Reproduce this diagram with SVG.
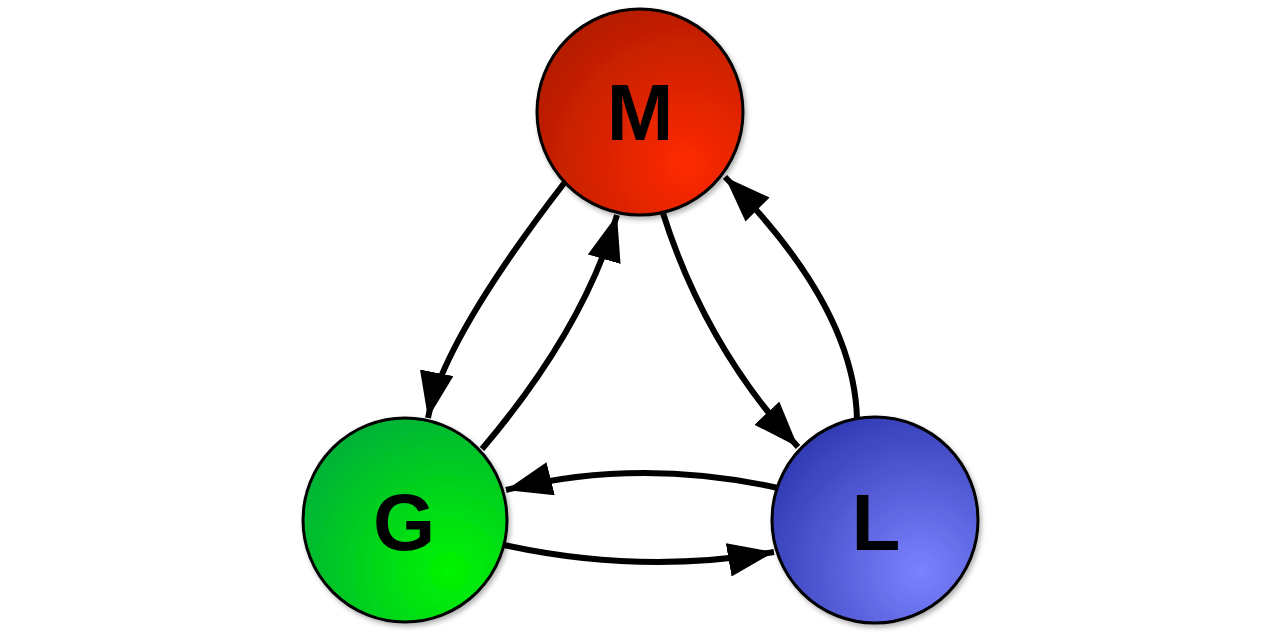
<svg xmlns="http://www.w3.org/2000/svg" width="1280" height="640" viewBox="0 0 1280 640">
<defs>
<radialGradient id="gM" cx="0.72" cy="0.75" r="0.95" fx="0.72" fy="0.75">
<stop offset="0" stop-color="#ff2a00"/><stop offset="1" stop-color="#a81a00"/>
</radialGradient>
<radialGradient id="gG" cx="0.72" cy="0.75" r="0.95" fx="0.72" fy="0.75">
<stop offset="0" stop-color="#00f500"/><stop offset="1" stop-color="#00a840"/>
</radialGradient>
<radialGradient id="gL" cx="0.72" cy="0.75" r="0.95" fx="0.72" fy="0.75">
<stop offset="0" stop-color="#7c82ff"/><stop offset="1" stop-color="#2630a8"/>
</radialGradient>
<filter id="sh" x="-20%" y="-20%" width="140%" height="140%">
<feDropShadow dx="2" dy="3" stdDeviation="2.5" flood-color="#000" flood-opacity="0.3"/>
</filter>
<marker id="ah" markerUnits="userSpaceOnUse" markerWidth="48" markerHeight="36" refX="46" refY="17" orient="auto">
<path d="M0,0 L46,17 L0,34 z" fill="#000"/>
</marker>
</defs>
<style>
.node{stroke:#000;stroke-width:3;filter:url(#sh)}
.lbl{font-family:"Liberation Sans",Arial,sans-serif;font-weight:bold;font-size:80px;fill:#000;text-anchor:middle}
.edge{fill:none;stroke:#000;stroke-width:6;marker-end:url(#ah)}
</style>
<rect width="1280" height="640" fill="#fff"/>
<g id="connectors">
<path class="edge" d="M565,182 Q443,340 428,418"/>
<path class="edge" d="M482,449 Q584,329 617,215"/>
<path class="edge" d="M662,210 Q704,345 798,447"/>
<path class="edge" d="M857,420 Q855,307 725,177"/>
<path class="edge" d="M778,488 Q638,457 506,490"/>
<path class="edge" d="M504,545 Q641,575 774,552"/>
</g>
<g id="node-M">
<circle class="node" cx="640" cy="112" r="103" fill="url(#gM)"/>
<text class="lbl" x="640" y="140">M</text>
</g>
<g id="node-G">
<circle class="node" cx="405" cy="520" r="102" fill="url(#gG)"/>
<text class="lbl" x="404" y="550">G</text>
</g>
<g id="node-L">
<circle class="node" cx="875" cy="520" r="103" fill="url(#gL)"/>
<text class="lbl" x="876" y="550">L</text>
</g>
</svg>
